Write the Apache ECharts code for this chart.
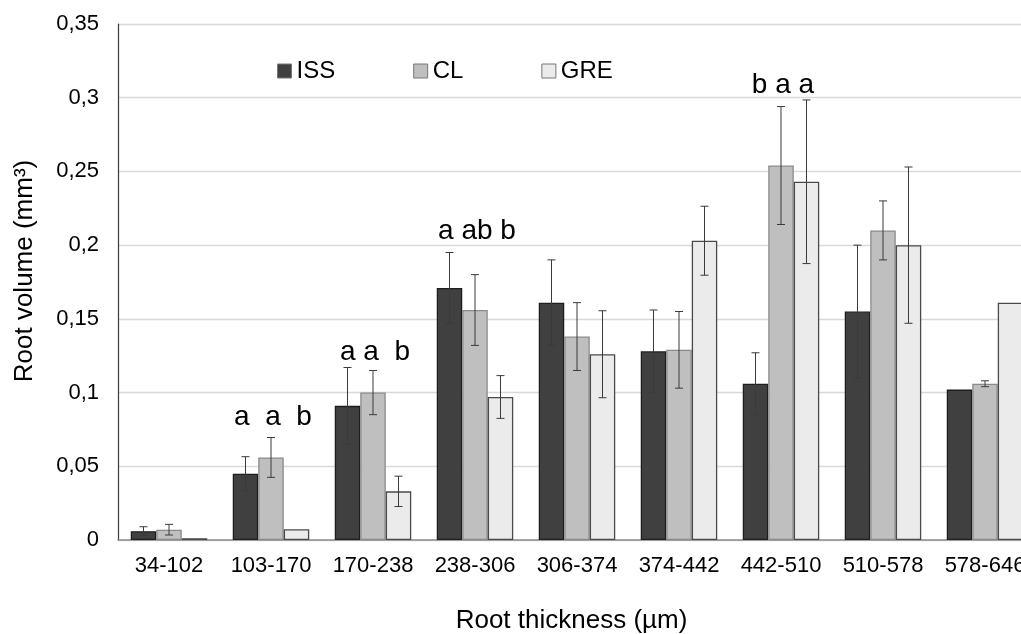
<!DOCTYPE html>
<html><head><meta charset="utf-8">
<script src="https://cdn.jsdelivr.net/npm/echarts@6/dist/echarts.min.js"></script>
<style>html,body{margin:0;padding:0;background:#fff}#c{width:1021px;height:634px}</style>
</head><body><div id="c"></div>
<script>
var categories = ['34-102','103-170','170-238','238-306','306-374','374-442','442-510','510-578','578-646'];
var seriesNames = ['ISS','CL','GRE'];
var issValues = [0.006, 0.045, 0.091, 0.171, 0.161, 0.128, 0.106, 0.155, 0.102];
var clValues  = [0.007, 0.056, 0.100, 0.156, 0.138, 0.129, 0.254, 0.210, 0.106];
var greValues = [0.0012, 0.0073, 0.033, 0.097, 0.126, 0.203, 0.243, 0.200, 0.161];
var issErr = [0.003, 0.0115, 0.026, 0.024, 0.029, 0.028, 0.021, 0.045, 0];
var clErr  = [0.0036, 0.0135, 0.015, 0.024, 0.023, 0.026, 0.040, 0.020, 0.002];
var greErr = [0, 0, 0.0103, 0.0145, 0.0295, 0.0234, 0.0555, 0.053, 0];
var letterGroups = [1, 2, 3, 6];
var letterHeights = [0.083, 0.1275, 0.2096, 0.3087];
var letterTexts = ['a  a  b', 'a a  b', 'a ab b', 'b a a'];
var yTicks = [0, 0.05, 0.1, 0.15, 0.2, 0.25, 0.3, 0.35];

var values = [issValues, clValues, greValues];
var errs = [issErr, clErr, greErr];
var fills = ['#404040', '#bfbfbf', '#ebebeb'];
var borders = ['#1e1e1e', '#8a8a8a', '#4a4a4a'];
var FONT = 'Liberation Sans';
var catGap = 0.25;

var chart = echarts.init(document.getElementById('c'));
var series = [];
seriesNames.forEach(function(name, si){
  series.push({
    name: name, type: 'bar', data: values[si],
    barGap: '0%', barCategoryGap: (catGap*100)+'%',
    itemStyle: {color: fills[si], borderColor: borders[si], borderWidth: 1.3},
    emphasis: {disabled: true}
  });
});
function barX(api, i, si){
  var band = api.size([1, 0])[0];
  var bw = band * (1 - catGap) / 3;
  return api.coord([i, 0])[0] + (si - 1) * bw;
}
seriesNames.forEach(function(name, si){
  series.push({
    type: 'custom', silent: true, z: 5,
    data: values[si].map(function(v, i){ return [i, v, errs[si][i]]; }),
    renderItem: function(params, api){
      var i = api.value(0), v = api.value(1), e = api.value(2);
      if (!e) return null;
      var x = barX(api, i, si);
      var top = api.coord([i, v + e])[1];
      var bot = api.coord([i, v - e])[1];
      var cap = 4;
      var st = {stroke: '#3a3a3a', lineWidth: 1};
      return {type: 'group', children: [
        {type: 'line', shape: {x1: x, y1: top, x2: x, y2: bot}, style: st},
        {type: 'line', shape: {x1: x-cap, y1: top, x2: x+cap, y2: top}, style: st},
        {type: 'line', shape: {x1: x-cap, y1: bot, x2: x+cap, y2: bot}, style: st}
      ]};
    }
  });
});
series.push({
  type: 'custom', silent: true, z: 6,
  data: letterGroups.map(function(g, k){ return [g, letterHeights[k], k]; }),
  renderItem: function(params, api){
    var i = api.value(0), h = api.value(1), k = api.value(2);
    var p = api.coord([i, h]);
    return {type: 'text', style: {x: p[0] + 2, y: p[1], text: letterTexts[k], fill: '#000',
      font: '28px "' + FONT + '"', align: 'center', verticalAlign: 'middle'}};
  }
});

chart.setOption({
  animation: false,
  backgroundColor: '#fff',
  textStyle: {fontFamily: FONT},
  legend: {
    data: seriesNames, left: 272, top: 54, itemGap: 78,
    itemWidth: 14, itemHeight: 14, icon: 'rect',
    textStyle: {fontSize: 24, color: '#000', fontFamily: FONT},
    itemStyle: {borderColor: '#777', borderWidth: 1}
  },
  grid: {left: 118, top: 24, width: 918, bottom: 94, containLabel: false, outerBoundsMode: 'none'},
  xAxis: {
    type: 'category', data: categories,
    name: 'Root thickness (µm)', nameLocation: 'middle', nameGap: 68,
    nameTextStyle: {fontSize: 26, color: '#000', fontFamily: FONT, padding: [0, 0, 0, -11]},
    axisLine: {lineStyle: {color: '#8c8c8c', width: 1.5}},
    axisTick: {show: false},
    axisLabel: {fontSize: 22, color: '#000', margin: 15, fontFamily: FONT, interval: 0, hideOverlap: false}
  },
  yAxis: {
    type: 'value', min: 0, max: 0.35, interval: 0.05,
    name: 'Root volume (mm³)', nameLocation: 'middle', nameGap: 80, nameRotate: 90,
    nameTextStyle: {fontSize: 26, color: '#000', fontFamily: FONT, padding: [0, 0, 0, 22]},
    axisLine: {show: true, lineStyle: {color: '#3a3a3a', width: 1.2}},
    axisTick: {show: false},
    splitLine: {lineStyle: {color: '#d9d9d9', width: 1.3}},
    axisLabel: {fontSize: 22, color: '#000', margin: 19, fontFamily: FONT,
      formatter: function(v){
        var t = yTicks.reduce(function(a, b){ return Math.abs(b - v) < Math.abs(a - v) ? b : a; });
        return String(+t.toFixed(2)).replace('.', ',');
      }}
  },
  series: series
});
</script></body></html>
